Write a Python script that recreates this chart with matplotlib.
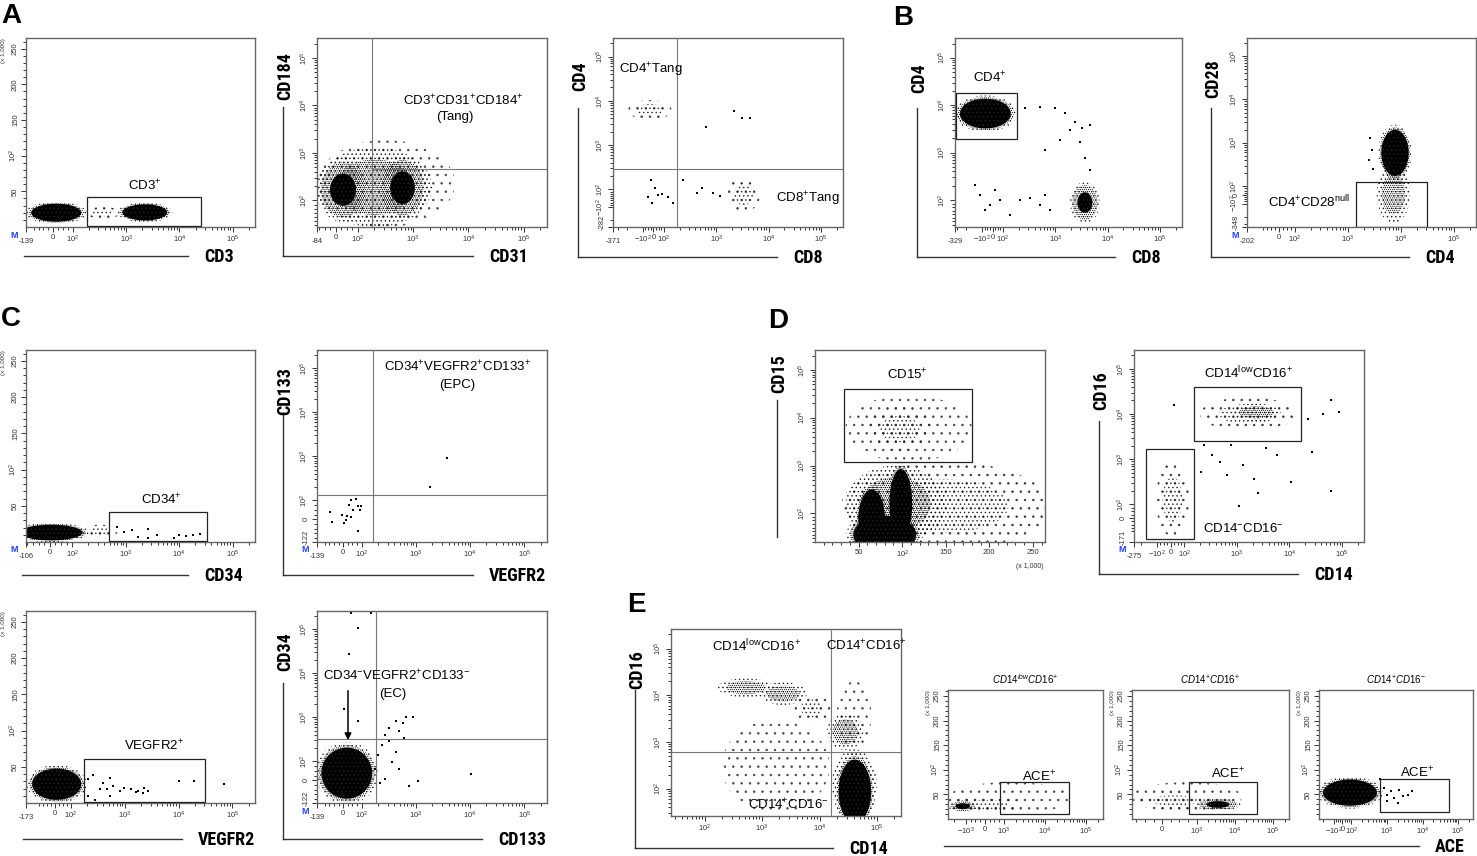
import numpy as np
import matplotlib
matplotlib.use("Agg")
import matplotlib.pyplot as plt
from matplotlib import font_manager
from matplotlib.patches import Polygon, Rectangle
from matplotlib.lines import Line2D
from matplotlib.ticker import NullFormatter
from matplotlib.transforms import ScaledTranslation

plt.rcParams["font.family"] = ["Liberation Sans", "DejaVu Sans"]
plt.rcParams["mathtext.fontset"] = "custom"
plt.rcParams["mathtext.rm"] = "Liberation Sans"
plt.rcParams["mathtext.it"] = "Liberation Sans:italic"
plt.rcParams["mathtext.bf"] = "Liberation Sans:bold"
plt.rcParams["hatch.linewidth"] = 0.5

# narrow bold face for the parameter names, if one is installed
installed = {f.name for f in font_manager.fontManager.ttflist}
NARROW = next((n for n in ("Liberation Sans Narrow", "Arial Narrow", "Roboto Condensed")
               if n in installed), None)
if NARROW:
    AXLAB = dict(family=NARROW, weight="bold", size=13)
else:
    AXLAB = dict(family="Liberation Sans", weight="bold", size=11.5)

TOP = 262143  # upper end of each channel

# ---------------- values ----------------
# clouds: x_lo, x_hi, y_lo, y_hi, density
lin_ticks = [50, 100, 150, 200, 250]

# A  T cells
a1_xticks = [-139, 0, 1e2, 1e3, 1e4, 1e5]
a1_clouds = [(-125, 160, 6, 34, "solid"), (170, 800, 12, 28, "medium"),
             (760, 6600, 8, 33, "solid")]
a1_gate = (184, 25500, 1, 42)

a2_xticks = [-84, 0, 1e2, 1e3, 1e4, 1e5]
a2_yticks = [1e2, 1e3, 1e4, 1e5]
a2_clouds = [(-84, 5700, -60, 1860, "sparse"), (-84, 2200, -60, 1300, "speckle"),
             (-84, 160, -30, 800, "dense"), (230, 1800, -20, 900, "dense")]
a2_quad = (180, 450)

a3_xticks = [-371, -1e2, 0, 1e2, 1e3, 1e4, 1e5]
a3_yticks = [-282, -1e2, 1e2, 1e3, 1e4, 1e5]
a3_clouds = [(-190, 140, 3700, 10400, "medium"), (1600, 6900, -130, 190, "medium")]
a3_quad = (179, 288)
a3_pts_x = [2190, 3110, 4420, 640, -22, 16, -50, 45, 83, 120, 150, -12, 233, 430, 530, 870, 1180]
a3_pts_y = [5890, 4070, 4070, 2550, 163, 107, 13, 36, 48, 13, -54, -54, 163, 58, 107, 58, 25]

# B  CD4 / CD28
b1_xticks = [-329, -1e2, 0, 1e2, 1e3, 1e4, 1e5]
b1_yticks = [1e2, 1e3, 1e4, 1e5]
b1_clouds = [(-301, 160, 2990, 14900, "solid"), (1900, 7070, -62, 239, "dense")]
b1_gate = (-315, 185, 1930, 18100)
b1_pts_x = [262, 507, 980, 1520, 2370, 3220, 4570, 1900, 1220, 2950, 631, 3670, 4570,
            -136, -110, -24, -72, 23, 71, 136, 211, 327, 507, 787, 631]
b1_pts_y = [8710, 9150, 8710, 6820, 4450, 3330, 3850, 2990, 1840, 1670, 1130, 770, 430,
            207, 127, 65, 30, 162, 100, -6, 100, 110, 65, 30, 127]

b2_xticks = [-202, 0, 1e2, 1e3, 1e4, 1e5]
b2_yticks = [-348, -1e2, 0, 1e2, 1e3, 1e4, 1e5]
b2_clouds = [(4000, 15000, 150, 2300, "solid"), (3500, 15000, -280, 300, "speckle")]
b2_gate = (1440, 31400, -340, 125)
b2_pts_x = [2600, 2800, 2500, 3000]
b2_pts_y = [1300, 700, 400, 250]

# C  progenitor / endothelial cells
c1_xticks = [-106, 0, 1e2, 1e3, 1e4, 1e5]
c1_clouds = [(-160, 180, 1, 25, "solid"), (150, 700, 5, 24, "medium")]
c1_gate = (485, 33000, 1, 41)
c1_pts_x = [686, 930, 1310, 1690, 2600, 3810, 7940, 9770, 13200, 18000, 24400, 2600]
c1_pts_y = [21, 14, 16, 7, 18, 10, 6, 10, 8, 10, 11, 6]

c2_xticks = [-139, 0, 1e2, 1e3, 1e4, 1e5]
c2_yticks = [-122, 0, 1e2, 1e3, 1e4, 1e5]
c2_quad = (162, 132)
c2_pts_x = [3680, 1830, -71, -61, -6, 4, 15, 31, 42, 51, 70, 79, 89, 97, 42, 79, 23]
c2_pts_y = [938, 204, 39, -14, 23, -20, -4, 77, 102, 47, 109, 72, 47, 68, 10, -62, 17]

c3_xticks = [-173, 0, 1e2, 1e3, 1e4, 1e5]
c3_clouds = [(-150, 174, 2, 50, "solid")]
c3_gate = (171, 30500, 1, 61)
c3_pts_x = [204, 255, 394, 341, 527, 613, 822, 951, 1280, 1720, 2310, 2670, 527,
            10100, 19500, 68500, 204, 274, 456, 1600, 2150]
c3_pts_y = [33, 38, 28, 19, 35, 23, 16, 21, 19, 16, 21, 17, 9, 31, 31, 26, 9, 4, 19, 15, 14]

c4_clouds = [(-130, 176, -113, 238, "solid")]
c4_quad = (181, 330)
c4_pts_x = [177, 204, 236, 273, 316, 424, 490, 569, 656, 881, 366, 424, 273, 762, 1100,
            10500, 316, 611, 219, 490, 4, 79, 33, 79, 42, 152]
c4_pts_y = [60, 139, 238, 408, 585, 838, 490, 741, 1000, 1040, 97, 166, 6, -31, -3,
            33, 284, 341, -12, 60, 1560, 838, 27800, 107000, 239000, 239000]
c4_arrow = (26, 4670, 26, 262)

# D  granulocytes / monocytes
d1_xticks = [50, 100, 150, 200, 250]
d1_yticks = [1e2, 1e3, 1e4, 1e5]
d1_clouds = [(30, 270, -150, 1200, "medium"), (35, 150, -100, 1000, "speckle"),
             (40, 120, -200, 100, "solid"), (48, 82, -160, 370, "solid"),
             (84, 113, -100, 1020, "solid"), (35, 180, 1200, 30000, "sparse"),
             (60, 135, 2010, 16700, "medium")]
d1_gate = (33, 180, 1190, 39800)

d2_xticks = [-275, -1e2, 0, 1e2, 1e3, 1e4, 1e5]
d2_yticks = [-171, 0, 1e2, 1e3, 1e4, 1e5]
d2_clouds = [(199, 13400, 4200, 23700, "medium"), (800, 6900, 7000, 17000, "speckle"),
             (-105, 123, -132, 865, "medium")]
d2_gates = [(153, 16600, 2490, 40500), (-162, 150, -147, 1700)]
d2_pts_x = [203, 336, 467, 777, 2550, 1090, 22400, 43900, 61600, 86100, 61600, 10500,
            26400, 653, 240, 5830, 21, 1290, 2150, 3580]
d2_pts_y = [520, 1240, 875, 2090, 183, 87, 7710, 10000, 20100, 10900, 200, 309,
            1470, 437, 2090, 1240, 15500, 736, 366, 1760]

# E  monocyte subsets and ACE
e1_ticks = [1e2, 1e3, 1e4, 1e5]
e1_clouds = [(200, 15000, 30, 3000, "sparse"), (20000, 80000, 700, 20000, "sparse"),
             (171, 1560, 9100, 23000, "speckle"), (910, 6000, 6200, 19000, "speckle"),
             (3500, 15500, 2500, 11000, "medium"), (13500, 58000, 670, 4100, "speckle"),
             (16400, 99800, 20, 700, "speckle"), (20000, 85000, 15, 500, "solid")]
e1_quad = (15900, 607)

e2_xticks = [-1e3, 0, 1e3, 1e4, 1e5]
e2_clouds = [(-2750, 45000, 10, 75, "sparse"), (-2700, 3000, 12, 45, "medium"),
             (-2700, -400, 14, 38, "dense")]
e2_gate = (800, 39300, 10, 75)

e3_xticks = [0, 1e3, 1e4, 1e5]
e3_clouds = [(-900, 15500, 14, 75, "sparse"), (-800, 3000, 20, 55, "medium"),
             (955, 14400, 16, 43, "dense")]
e3_gate = (780, 39200, 10, 75)

e4_xticks = [-1e2, 0, 1e2, 1e3, 1e4, 1e5]
e4_clouds = [(-241, 635, 24, 83, "solid")]
e4_gate = (644, 55200, 14, 81)
e4_pts_x = [807, 1010, 1270, 1590, 2230, 2800, 3930, 4920, 1010, 2000, 644]
e4_pts_y = [62, 49, 56, 43, 59, 46, 49, 56, 36, 33, 82]

# ---------------- helpers ----------------
W, H = 1477, 856
fig = plt.figure(figsize=(W / 100, H / 100), dpi=100)
fig.patch.set_facecolor("white")


def bi_funcs(L, a):
    def fwd(v):
        v = np.asarray(v, dtype=float)
        av = np.abs(v)
        with np.errstate(divide="ignore", invalid="ignore"):
            lg = np.sign(v) * (a + np.log10(np.where(av > L, av, L) / L))
        return np.where(av <= L, a * v / L, lg)

    def inv(s):
        s = np.asarray(s, dtype=float)
        a_s = np.abs(s)
        with np.errstate(over="ignore", invalid="ignore"):
            lg = np.sign(s) * L * 10.0 ** np.clip(np.where(a_s > a, a_s, a) - a, None, 300)
        return np.where(a_s <= a, s * L / a, lg)
    return fwd, inv


def tick_label(v):
    if v == 0:
        return "0"
    k = np.log10(abs(v))
    if abs(v) >= 100 and abs(k - round(k)) < 1e-9:
        return ("$-10^{%d}$" if v < 0 else "$10^{%d}$") % round(k)
    return "%g" % v


def bi_minor(L, lo, hi):
    out = list(np.linspace(-L, L, 9))
    for k in range(int(round(np.log10(L))), 6):
        for f in range(2, 11):
            v = f * 10.0 ** k
            if v > L:
                out += [v, -v]
    return [v for v in out if lo <= v <= hi]


def setup_axis(ax, which, spec, ticks):
    axis = ax.xaxis if which == "x" else ax.yaxis
    set_scale = ax.set_xscale if which == "x" else ax.set_yscale
    set_lim = ax.set_xlim if which == "x" else ax.set_ylim
    kind = spec[0]
    if kind == "bi":
        _, L, a, lo = spec
        hi = TOP
        set_scale("function", functions=bi_funcs(L, a))
        minors = bi_minor(L, lo, hi)
    elif kind == "lin":
        _, lo, hi = spec
        minors = list(np.arange(10, hi, 10))
    else:
        _, lo, hi = spec
        set_scale("log")
        minors = [f * 10.0 ** k for k in range(1, 6) for f in range(2, 10)
                  if lo <= f * 10.0 ** k <= hi]
    set_lim(lo, hi)
    labels = [tick_label(v) for v in ticks]
    if which == "x":
        ax.set_xticks(ticks, labels)
    else:
        ax.set_yticks(ticks, labels, rotation=90, va="center")
    axis.set_ticks(minors, minor=True)
    axis.set_minor_formatter(NullFormatter())
    return lo


# ellipse scale, hatch (None = solid fill), colour; hatch densities nest (48/24/12 per inch)
LEVELS = {
    "solid": [(0.9, None, "black"), (1.0, "........", "black"), (1.1, "....", "#222222")],
    "dense": [(0.5, None, "black"), (0.85, "........", "black"), (1.0, "....", "#222222")],
    "speckle": [(0.7, "........", "black"), (1.0, "....", "#111111")],
    "medium": [(0.6, "....", "#222222"), (1.0, "..", "#333333")],
    "sparse": [(1.0, "..", "#444444")],
}
theta = np.linspace(0, 2 * np.pi, 90)


def draw_cloud(ax, x_lo, x_hi, y_lo, y_hi, level):
    tx, ty = ax.xaxis.get_transform(), ax.yaxis.get_transform()
    sx = tx.transform(np.array([x_lo, x_hi], float))
    sy = ty.transform(np.array([y_lo, y_hi], float))
    cx, rx = sx.mean(), (sx[1] - sx[0]) / 2
    cy, ry = sy.mean(), (sy[1] - sy[0]) / 2
    for k, hatch, col in LEVELS[level]:
        xs = tx.inverted().transform(cx + k * rx * np.cos(theta))
        ys = ty.inverted().transform(cy + k * ry * np.sin(theta))
        verts = np.column_stack([xs, ys])
        if hatch is None:
            p = Polygon(verts, closed=True, facecolor=col, edgecolor="none", lw=0, zorder=1)
        else:
            p = Polygon(verts, closed=True, facecolor="none", edgecolor=col, lw=0,
                        hatch=hatch, zorder=1)
        ax.add_patch(p)


def fig_line(x0, y0, x1, y1):
    fig.add_artist(Line2D([x0 / W, x1 / W], [1 - y0 / H, 1 - y1 / H],
                          color="#333333", lw=1.0))


def fig_text(x, y, s, **kw):
    fig.text(x / W, 1 - y / H, s, **kw)


def shift_label(lab, dx, dy):
    lab.set_transform(lab.get_transform() + ScaledTranslation(dx / 100, dy / 100,
                                                              fig.dpi_scale_trans))


def make_panel(p):
    l, r, t, b = p["box"]
    ax = fig.add_axes([l / W, 1 - b / H, (r - l) / W, (b - t) / H])
    xlo = setup_axis(ax, "x", p["xs"], p["xt"])
    ylo = setup_axis(ax, "y", p["ys"], p["yt"])
    ax.tick_params(which="both", direction="out", colors="#333333", width=0.7,
                   labelsize=5.5, pad=1.5)
    ax.tick_params(which="major", length=3.5)
    ax.tick_params(which="minor", length=2)
    # the lower-limit value labels sit off the corner, as in the cytometer export
    if p["xt"][0] == xlo:
        shift_label(ax.get_xticklabels()[0], 0, -4)
    if p["ys"][0] == "bi" and p["yt"][0] == ylo:
        shift_label(ax.get_yticklabels()[0], 0, 5)
    for sp in ax.spines.values():
        sp.set_color("#666666")
        sp.set_linewidth(1.0)
    for c in p.get("clouds", []):
        draw_cloud(ax, *c)
    if "pts" in p:
        ax.scatter(p["pts"][0], p["pts"][1], s=1.1, c="black", marker="s",
                   linewidths=0, zorder=2)
    for g in p.get("gates", []):
        ax.add_patch(Rectangle((g[0], g[2]), g[1] - g[0], g[3] - g[2], fill=False,
                               edgecolor="#222222", lw=0.9, zorder=3))
    if "quad" in p:
        qx, qy = p["quad"]
        ax.axvline(qx, color="#777777", lw=0.8, zorder=3)
        if p.get("half_h"):
            ax.plot([qx, TOP], [qy, qy], color="#777777", lw=0.8, zorder=3)
        else:
            ax.axhline(qy, color="#777777", lw=0.8, zorder=3)
    for fx, fy, s, ha in p.get("texts", []):
        ax.text(fx, fy, s, transform=ax.transAxes, ha=ha, va="center", size=9.5, zorder=4)
    if p["ys"][0] == "lin":
        off = 20 if (r - l) > 200 else 17
        ax.text(-off / (r - l), 1.0, "(x 1,000)", transform=ax.transAxes, rotation=90,
                ha="right", va="top", size=4.5, color="#333333")
    if p["xs"][0] == "lin":
        ax.text(0.935, -0.125, "(x 1,000)", transform=ax.transAxes,
                ha="center", va="center", size=5, color="#333333")
    if p.get("m"):
        fig_text(l - 12, b + 8, "M", color="#2040ff", weight="bold", size=6.5,
                 ha="center", va="center")
    if "title" in p:
        ax.set_title(p["title"], size=7, pad=4)
    return ax


LIN = ("lin", 0, 265)
LIN_E = ("lin", 0, 262)

panels = [
    dict(box=(26, 255, 38, 227), xs=("bi", 100, 0.37, -139), ys=LIN, xt=a1_xticks, yt=lin_ticks,
         clouds=a1_clouds, gates=[a1_gate], m=True, texts=[(0.52, 0.22, "CD3$^{+}$", "center")]),
    dict(box=(317, 547, 38, 227), xs=("bi", 100, 0.40, -84), ys=("bi", 100, 0.35, -60),
         xt=a2_xticks, yt=a2_yticks, clouds=a2_clouds, quad=a2_quad, half_h=True,
         texts=[(0.635, 0.67, "CD3$^{+}$CD31$^{+}$CD184$^{+}$", "center"),
                (0.60, 0.58, "(Tang)", "center")]),
    dict(box=(613, 843, 38, 227), xs=("bi", 100, 0.2, -371), ys=("bi", 100, 0.2, -282),
         xt=a3_xticks, yt=a3_yticks, clouds=a3_clouds, quad=a3_quad,
         pts=(a3_pts_x, a3_pts_y),
         texts=[(0.025, 0.83, "CD4$^{+}$Tang", "left"), (0.71, 0.15, "CD8$^{+}$Tang", "left")]),
    dict(box=(955, 1182, 38, 227), xs=("bi", 100, 0.2, -329), ys=("bi", 100, 0.3, -90),
         xt=b1_xticks, yt=b1_yticks, clouds=b1_clouds, gates=[b1_gate],
         pts=(b1_pts_x, b1_pts_y), texts=[(0.08, 0.79, "CD4$^{+}$", "left")]),
    dict(box=(1247, 1476, 38, 227), xs=("bi", 100, 0.3, -202), ys=("bi", 100, 0.2, -348),
         xt=b2_xticks, yt=b2_yticks, clouds=b2_clouds, gates=[b2_gate], m=True,
         pts=(b2_pts_x, b2_pts_y),
         texts=[(0.27, 0.13, "CD4$^{+}$CD28$^{\\mathrm{null}}$", "center")]),
    dict(box=(26, 255, 350, 542), xs=("bi", 100, 0.42, -106), ys=LIN, xt=c1_xticks, yt=lin_ticks,
         clouds=c1_clouds, gates=[c1_gate], m=True, pts=(c1_pts_x, c1_pts_y),
         texts=[(0.59, 0.22, "CD34$^{+}$", "center")]),
    dict(box=(317, 547, 350, 542), xs=("bi", 100, 0.34, -139), ys=("bi", 100, 0.43, -122),
         xt=c2_xticks, yt=c2_yticks, quad=c2_quad, m=True, pts=(c2_pts_x, c2_pts_y),
         texts=[(0.61, 0.91, "CD34$^{+}$VEGFR2$^{+}$CD133$^{+}$", "center"),
                (0.61, 0.82, "(EPC)", "center")]),
    dict(box=(815, 1045, 350, 542), xs=("lin", 0, 264), ys=("bi", 100, 0.3, -100),
         xt=d1_xticks, yt=d1_yticks, clouds=d1_clouds, gates=[d1_gate],
         texts=[(0.40, 0.87, "CD15$^{+}$", "center")]),
    dict(box=(1134, 1364, 350, 542), xs=("bi", 100, 0.26, -275), ys=("bi", 100, 0.3, -171),
         xt=d2_xticks, yt=d2_yticks, clouds=d2_clouds, gates=d2_gates, m=True,
         pts=(d2_pts_x, d2_pts_y),
         texts=[(0.50, 0.88, "CD14$^{\\mathrm{low}}$CD16$^{+}$", "center"),
                (0.30, 0.07, "CD14$^{-}$CD16$^{-}$", "left")]),
    dict(box=(26, 255, 611, 803), xs=("bi", 100, 0.3, -173), ys=LIN, xt=c3_xticks, yt=lin_ticks,
         clouds=c3_clouds, gates=[c3_gate], pts=(c3_pts_x, c3_pts_y),
         texts=[(0.56, 0.30, "VEGFR2$^{+}$", "center")]),
    dict(box=(317, 547, 611, 803), xs=("bi", 100, 0.34, -139), ys=("bi", 100, 0.43, -122),
         xt=c2_xticks, yt=c2_yticks, clouds=c4_clouds, quad=c4_quad, m=True,
         pts=(c4_pts_x, c4_pts_y), arrow=c4_arrow,
         texts=[(0.345, 0.66, "CD34$^{-}$VEGFR2$^{+}$CD133$^{-}$", "center"),
                (0.33, 0.57, "(EC)", "center")]),
    dict(box=(671, 901, 629, 816), xs=("log", 26, TOP), ys=("log", 26, TOP),
         xt=e1_ticks, yt=e1_ticks, clouds=e1_clouds, quad=e1_quad,
         texts=[(0.37, 0.91, "CD14$^{\\mathrm{low}}$CD16$^{+}$", "center"),
                (0.85, 0.91, "CD14$^{+}$CD16$^{+}$", "center"),
                (0.51, 0.06, "CD14$^{+}$CD16$^{-}$", "center")]),
    dict(box=(948, 1103, 690, 819), xs=("bi", 1000, 0.46, -2750), ys=LIN_E, xt=e2_xticks,
         yt=lin_ticks, clouds=e2_clouds, gates=[e2_gate],
         title="$\\mathit{CD14^{low}CD16^{+}}$", texts=[(0.59, 0.33, "ACE$^{+}$", "center")]),
    dict(box=(1132, 1289, 690, 819), xs=("bi", 1000, 0.9, -880), ys=LIN_E, xt=e3_xticks,
         yt=lin_ticks, clouds=e3_clouds, gates=[e3_gate],
         title="$\\mathit{CD14^{+}CD16^{+}}$", texts=[(0.61, 0.35, "ACE$^{+}$", "center")]),
    dict(box=(1319, 1473, 690, 819), xs=("bi", 100, 0.25, -257), ys=LIN_E, xt=e4_xticks,
         yt=lin_ticks, clouds=e4_clouds, gates=[e4_gate], pts=(e4_pts_x, e4_pts_y),
         title="$\\mathit{CD14^{+}CD16^{-}}$", texts=[(0.64, 0.36, "ACE$^{+}$", "center")]),
]

for p in panels:
    ax = make_panel(p)
    if "arrow" in p:
        x0, y0, x1, y1 = p["arrow"]
        ax.annotate("", xy=(x1, y1), xytext=(x0, y0),
                    arrowprops=dict(arrowstyle="-|>", color="black", lw=1.1,
                                    mutation_scale=10), zorder=5)

# parameter names with their L-shaped rules (figure pixels)
xlabels = [  # rule x0, rule x1, y, label
    (24, 188, 256, "CD3"), (283, 473, 256, "CD31"), (578, 777, 257, "CD8"),
    (917, 1115, 257, "CD8"), (1211, 1409, 257, "CD4"),
    (22, 188, 575, "CD34"), (283, 473, 575, "VEGFR2"), (1099, 1298, 574, "CD14"),
    (23, 182, 839, "VEGFR2"), (283, 482, 839, "CD133"), (635, 833, 848, "CD14"),
    (944, 1419, 846, "ACE"),
]
for x0, x1, y, s in xlabels:
    fig_line(x0, y, x1, y)
    fig_text(x1 + 16, y + 1, s, ha="left", va="center", **AXLAB)

ylabels = [  # rule x, rule y0, rule y1, label centre y, label
    (283, 107, 256, 76, "CD184"), (578, 108, 257, 76, "CD4"), (917, 108, 257, 78, "CD4"),
    (1211, 108, 257, 79, "CD28"), (283, 413, 575, 391, "CD133"), (777, 400, 537, 374, "CD15"),
    (1099, 421, 574, 391, "CD16"), (283, 683, 839, 652, "CD34"), (635, 690, 848, 670, "CD16"),
]
for x, y0, y1, yc, s in ylabels:
    fig_line(x, y0, x, y1)
    fig_text(x + 2, yc, s, ha="center", va="center", rotation=90, **AXLAB)

for x, y, s in [(11, 16, "A"), (903, 18, "B"), (11, 319, "C"), (778, 321, "D"), (636, 605, "E")]:
    fig_text(x, y, s, ha="center", va="center", weight="bold", size=20)

fig.savefig("out.png", dpi=100, facecolor="white")
